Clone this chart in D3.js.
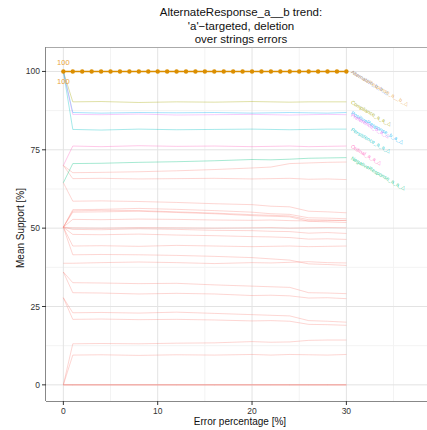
<!DOCTYPE html>
<html><head><meta charset="utf-8">
<script src="https://cdn.jsdelivr.net/npm/d3@7"></script>
<style>body{margin:0;background:#fff}svg{display:block;font-family:"Liberation Sans",Arial,sans-serif}</style>
</head><body><div id="chart"></div>
<script>
// ---- data ----
const errorPct = [0, 1, 4, 8, 12, 16, 20, 22, 24, 26, 28, 30];
const targetX = d3.range(0, 31);
const targetY = targetX.map(() => 100);
const targetName = "AlternateResponse_a__b";

const labeledNames = ["Alternation_b_b", "Compliance_a_a", "PositiveResponse_b_a", "Preference_b_a", "Persistence_a_a", "Ordinal_a_a", "NegativeResponse_a_a"];
const labeledColors = ["#619CFF", "#A3A500", "#00B0F6", "#E76BF3", "#00BFC4", "#FF62BC", "#00BF7D"];
const labeledValues = [
  [100, 100, 100, 100, 100, 100, 100, 100, 100, 100, 100, 100],
  [100, 90.3, 90.4, 90.1, 90.3, 90.2, 90.4, 90.3, 90.2, 90.3, 90.3, 90.3],
  [100, 86.9, 86.7, 86.9, 86.8, 86.9, 86.7, 86.8, 86.9, 86.8, 86.7, 86.9],
  [100, 86.3, 86.2, 86.4, 86.1, 86.2, 86.3, 86.2, 86.1, 86.2, 86.3, 86.2],
  [100, 81.5, 81.3, 81.6, 81.4, 81.5, 81.6, 81.5, 81.4, 81.5, 81.6, 81.6],
  [70, 76.2, 76.0, 76.3, 76.1, 76.2, 76.0, 76.1, 76.2, 76.0, 76.1, 76.2],
  [64.5, 70.6, 70.7, 71.0, 71.2, 71.5, 71.9, 71.8, 72.0, 72.3, 72.4, 72.5]
];
const otherValues = [
  [70, 67.7, 67.8, 68.0, 68.3, 68.7, 69.2, 69.5, 70.6, 70.8, 71.0, 71.1],
  [70, 65.8, 65.9, 65.7, 65.8, 65.9, 65.7, 65.8, 65.9, 65.6, 65.7, 65.5],
  [64.5, 58.6, 58.7, 58.5, 58.2, 57.8, 57.5, 57.0, 56.8, 55.4, 55.2, 54.9],
  [50.3, 55.9, 56.0, 56.3, 56.0, 55.6, 55.1, 54.6, 54.4, 53.3, 53.2, 53.0],
  [50.3, 55.5, 55.7, 55.6, 55.2, 54.8, 54.3, 54.1, 53.9, 52.7, 52.6, 52.4],
  [50.3, 55.1, 55.2, 55.4, 55.0, 54.6, 54.0, 53.8, 53.6, 52.2, 52.0, 51.8],
  [50.3, 52.8, 52.7, 52.9, 52.8, 52.6, 52.5, 52.6, 52.4, 52.3, 52.4, 52.5],
  [50.3, 50.1, 50.0, 50.2, 50.1, 50.0, 50.1, 50.2, 50.0, 50.1, 50.2, 50.1],
  [50.3, 49.6, 49.5, 49.8, 49.6, 49.3, 49.2, 49.0, 48.9, 48.4, 48.6, 48.3],
  [50.3, 48.0, 47.9, 48.1, 47.8, 47.6, 47.3, 47.2, 47.0, 46.5, 46.6, 46.4],
  [50.3, 44.3, 44.4, 44.2, 44.5, 44.3, 44.1, 44.2, 44.3, 44.1, 44.2, 44.3],
  [50.3, 41.5, 41.6, 41.5, 41.3, 41.0, 40.6, 40.2, 39.8, 38.6, 38.4, 38.1],
  [38.8, 38.8, 39.0, 39.2, 39.0, 38.7, 39.0, 38.9, 39.1, 39.3, 39.0, 38.9],
  [36.0, 32.6, 32.5, 32.3, 32.4, 31.9, 31.5, 31.3, 31.1, 29.4, 29.3, 29.1],
  [36.0, 29.4, 29.3, 29.0, 29.2, 29.0, 28.5, 28.6, 28.4, 27.7, 27.8, 27.5],
  [27.8, 23.0, 23.1, 22.9, 23.2, 22.8, 22.4, 22.2, 22.0, 20.5, 20.3, 20.0],
  [27.8, 20.9, 21.0, 20.8, 20.9, 20.7, 20.4, 20.5, 20.3, 19.3, 19.2, 19.0],
  [0, 13.1, 13.2, 13.1, 13.3, 13.4, 13.8, 13.6, 13.7, 14.2, 14.3, 14.3],
  [0, 9.5, 9.6, 9.4, 9.6, 9.5, 9.7, 9.5, 9.7, 9.6, 9.5, 9.7],
  [0, 0, 0, 0, 0, 0, 0, 0, 0, 0, 0, 0],
  [0, 0, 0, 0, 0, 0, 0, 0, 0, 0, 0, 0],
  [0, 0, 0, 0, 0, 0, 0, 0, 0, 0, 0, 0]
];
const xTicks = [0, 10, 20, 30];
const xMinor = [5, 15, 25, 35];
const yTicks = [0, 25, 50, 75, 100];
const yMinor = [12.5, 37.5, 62.5, 87.5];
const titleLines = ["AlternateResponse_a__b trend:", "'a'\u2212targeted, deletion", "over strings errors"];

// ---- chart ----
const W = 427, H = 430;
const P = {l: 46, r: 436, t: 47, b: 401};
const x = d3.scaleLinear().domain([-1.84, 39.5]).range([P.l, P.r]);
const y = d3.scaleLinear().domain([-5.15, 107.8]).range([P.b, P.t]);

const svg = d3.select("#chart").append("svg").attr("width", W).attr("height", H);
svg.append("defs").append("clipPath").attr("id", "clip")
  .append("rect").attr("x", P.l).attr("y", P.t).attr("width", P.r - P.l).attr("height", P.b - P.t);

const grid = svg.append("g");
grid.selectAll(".xm").data(xMinor).join("line").attr("x1", d => x(d)).attr("x2", d => x(d)).attr("y1", P.t).attr("y2", P.b).attr("stroke", "#f3f3f3").attr("stroke-width", 1);
grid.selectAll(".ym").data(yMinor).join("line").attr("y1", d => y(d)).attr("y2", d => y(d)).attr("x1", P.l).attr("x2", P.r).attr("stroke", "#f3f3f3").attr("stroke-width", 1);
grid.selectAll(".xM").data(xTicks).join("line").attr("x1", d => x(d)).attr("x2", d => x(d)).attr("y1", P.t).attr("y2", P.b).attr("stroke", "#e3e3e3").attr("stroke-width", 1);
grid.selectAll(".yM").data(yTicks).join("line").attr("y1", d => y(d)).attr("y2", d => y(d)).attr("x1", P.l).attr("x2", P.r).attr("stroke", "#e3e3e3").attr("stroke-width", 1);
svg.append("line").attr("x1", P.l).attr("x2", P.r).attr("y1", P.t + 0.5).attr("y2", P.t + 0.5).attr("stroke", "#aaa");

const line = d3.line().x(d => x(d[0])).y(d => y(d[1]));
const plot = svg.append("g").attr("clip-path", "url(#clip)");

plot.selectAll(".other").data(otherValues).join("path")
  .attr("d", v => line(errorPct.map((e, i) => [e, v[i]])))
  .attr("fill", "none").attr("stroke", "#F8766D").attr("stroke-opacity", 0.3).attr("stroke-width", 1);

plot.selectAll(".lab").data(labeledValues).join("path")
  .attr("d", v => line(errorPct.map((e, i) => [e, v[i]])))
  .attr("fill", "none").attr("stroke", (v, i) => labeledColors[i]).attr("stroke-opacity", 0.35).attr("stroke-width", 1);

const targetColor = "#DB8E00";
plot.append("path").attr("d", line(targetX.map((e, i) => [e, targetY[i]])))
  .attr("fill", "none").attr("stroke", targetColor).attr("stroke-width", 1.6);
plot.selectAll(".dot").data(targetX).join("circle")
  .attr("cx", d => x(d)).attr("cy", (d, i) => y(targetY[i])).attr("r", 2.2).attr("fill", targetColor);

// "100" labels
svg.append("text").attr("x", x(0)).attr("y", y(targetY[0]) - 6).attr("text-anchor", "middle")
  .attr("font-size", 7.5).attr("fill", "#E9A540").text(String(targetY[0]));
svg.append("text").attr("x", x(0)).attr("y", y(targetY[0]) + 13).attr("text-anchor", "middle")
  .attr("font-size", 7.5).attr("fill", "#E9A540").text(String(targetY[0]));

// end labels
const endLabels = labeledNames.map((n, i) => ({name: n, color: labeledColors[i], v: labeledValues[i][labeledValues[i].length - 1]}));
endLabels.push({name: targetName, color: "#E9A540", v: targetY[targetY.length - 1]});
svg.selectAll(".endlab").data(endLabels).join("text")
  .attr("transform", d => `translate(${x(30) + 4},${y(d.v) + 1.5}) rotate(30)`)
  .attr("font-size", 5.2).attr("fill", d => d.color).attr("fill-opacity", 0.85)
  .text(d => d.name + "_\u25B3");

// axes
const ax = svg.append("g");
ax.append("line").attr("x1", P.l - 0.5).attr("x2", P.l - 0.5).attr("y1", P.t).attr("y2", P.b).attr("stroke", "#888");
ax.append("line").attr("x1", P.l).attr("x2", P.r).attr("y1", P.b + 0.5).attr("y2", P.b + 0.5).attr("stroke", "#888");
ax.selectAll(".yt").data(yTicks).join("line").attr("x1", P.l - 4).attr("x2", P.l).attr("y1", d => y(d)).attr("y2", d => y(d)).attr("stroke", "#333");
ax.selectAll(".ytl").data(yTicks).join("text").attr("x", P.l - 6).attr("y", d => y(d) + 3).attr("text-anchor", "end")
  .attr("font-size", 8.5).attr("fill", "#333").text(d => d);
ax.selectAll(".xt").data(xTicks).join("line").attr("y1", P.b).attr("y2", P.b + 4).attr("x1", d => x(d)).attr("x2", d => x(d)).attr("stroke", "#333");
ax.selectAll(".xtl").data(xTicks).join("text").attr("y", P.b + 12.5).attr("x", d => x(d)).attr("text-anchor", "middle")
  .attr("font-size", 8.5).attr("fill", "#333").text(d => d);
svg.append("text").attr("x", 240).attr("y", 425).attr("text-anchor", "middle").attr("font-size", 10).attr("fill", "#111").text("Error percentage [%]");
svg.append("text").attr("transform", "translate(24,228) rotate(-90)").attr("text-anchor", "middle").attr("font-size", 10).attr("fill", "#111").text("Mean Support [%]");

svg.selectAll(".title").data(titleLines).join("text").attr("x", 241).attr("y", (d, i) => 16 + i * 13.5)
  .attr("text-anchor", "middle").attr("font-size", 11.5).attr("fill", "#111").text(d => d);
</script>
</body></html>
